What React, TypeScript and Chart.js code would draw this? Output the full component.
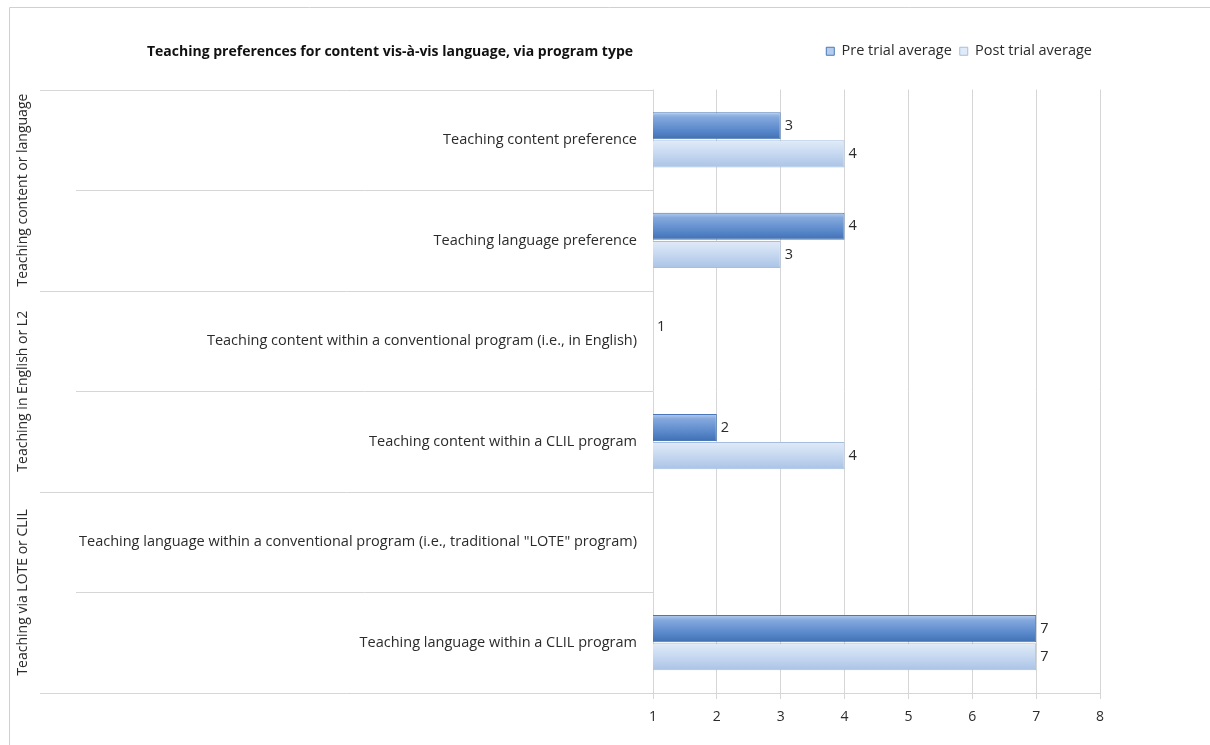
import React, { useEffect, useRef } from "react";
import { Chart, registerables } from "chart.js";

Chart.register(...registerables);

const titleText = "Teaching preferences for content vis-à-vis language, via program type";
const categories = [
  "Teaching content preference",
  "Teaching language preference",
  "Teaching content within a conventional program (i.e., in English)",
  "Teaching content within a CLIL program",
  'Teaching language within a conventional program (i.e., traditional "LOTE" program)',
  "Teaching language within a CLIL program",
];
const groups = [
  "Teaching content or language",
  "Teaching in English or L2",
  "Teaching via LOTE or CLIL",
];
const preTrial: (number | null)[] = [3, 4, 1, 2, null, 7];
const postTrial: (number | null)[] = [4, 3, null, 4, null, 7];
const seriesNames = ["Pre trial average", "Post trial average"];
const xMin = 1;
const xMax = 8;

const FONT = '"Open Sans", sans-serif';
const FS = 14.5;
const TEXT = "#2b2b2b";
const LINE = "#d6d6d6";
const CAT_PCT = 0.56;
const BAR_PCT = 0.96;

const preStops: [number, string][] = [
  [0, "#b4cdee"],
  [0.18, "#85a9de"],
  [0.7, "#5686c9"],
  [1, "#4170b2"],
];
const postStops: [number, string][] = [
  [0, "#e1ebf8"],
  [0.5, "#c6d8f0"],
  [1, "#aac3e6"],
];

function gradientFill(stops: [number, string][], solid: string) {
  return (ctx: any) => {
    const chart = ctx.chart;
    const ca = chart.chartArea;
    if (!ca || ctx.type !== "data") return solid;
    const y = chart.scales.y;
    const cat = (ca.bottom - ca.top) / categories.length;
    const center = y.getPixelForValue(ctx.dataIndex);
    const slot = (cat * CAT_PCT) / 2;
    const bar = slot * BAR_PCT;
    const sc = center + (ctx.datasetIndex === 0 ? -slot / 2 : slot / 2);
    const g = chart.ctx.createLinearGradient(0, sc - bar / 2, 0, sc + bar / 2);
    stops.forEach(([o, c]) => g.addColorStop(o, c));
    return g;
  };
}

const decorPlugin = {
  id: "decor",
  beforeDraw(chart: any) {
    const { ctx } = chart;
    ctx.save();
    ctx.strokeStyle = "#d0d0d0";
    ctx.lineWidth = 1;
    ctx.beginPath();
    ctx.moveTo(9.5, 745);
    ctx.lineTo(9.5, 7.5);
    ctx.lineTo(1210, 7.5);
    ctx.stroke();
    ctx.fillStyle = "#111";
    ctx.font = `bold 14px ${FONT}`;
    ctx.textAlign = "center";
    ctx.textBaseline = "middle";
    ctx.fillText(titleText, 390, 52);
    ctx.restore();
  },
  afterDraw(chart: any) {
    const { ctx, chartArea: ca } = chart;
    const n = categories.length;
    const step = (ca.bottom - ca.top) / n;
    ctx.save();
    ctx.strokeStyle = LINE;
    ctx.lineWidth = 1;
    for (let k = 0; k <= n; k++) {
      const yy = Math.round(ca.top + k * step) + 0.5;
      const x0 = k % 2 === 0 ? 40 : 76;
      ctx.beginPath();
      ctx.moveTo(x0, yy);
      ctx.lineTo(ca.left, yy);
      ctx.stroke();
    }
    ctx.fillStyle = TEXT;
    ctx.font = `14px ${FONT}`;
    ctx.textAlign = "center";
    ctx.textBaseline = "middle";
    groups.forEach((g, i) => {
      const cy = ca.top + (2 * i + 1) * step;
      ctx.save();
      ctx.translate(23, cy);
      ctx.rotate(-Math.PI / 2);
      ctx.fillText(g, 0, 0);
      ctx.restore();
    });
    ctx.restore();
  },
  afterDatasetsDraw(chart: any) {
    const { ctx } = chart;
    ctx.save();
    ctx.fillStyle = TEXT;
    ctx.font = `${FS}px ${FONT}`;
    ctx.textAlign = "left";
    ctx.textBaseline = "middle";
    chart.data.datasets.forEach((ds: any, di: number) => {
      const meta = chart.getDatasetMeta(di);
      meta.data.forEach((el: any, i: number) => {
        const v = ds.data[i];
        if (v === null || v === undefined) return;
        ctx.fillText(String(v), el.x + 4, el.y);
      });
    });
    ctx.restore();
  },
};

export default function App() {
  const ref = useRef<HTMLCanvasElement | null>(null);
  useEffect(() => {
    if (!ref.current) return;
    const chart = new Chart(ref.current, {
      type: "bar",
      data: {
        labels: categories,
        datasets: [
          {
            label: seriesNames[0],
            data: preTrial,
            backgroundColor: gradientFill(preStops, "#4f81bd"),
            borderColor: "#4a78b6",
            borderWidth: 1,
            borderSkipped: "start",
            categoryPercentage: CAT_PCT,
            barPercentage: BAR_PCT,
          },
          {
            label: seriesNames[1],
            data: postTrial,
            backgroundColor: gradientFill(postStops, "#b3c9e8"),
            borderColor: "#a5bedf",
            borderWidth: 1,
            borderSkipped: "start",
            categoryPercentage: CAT_PCT,
            barPercentage: BAR_PCT,
          },
        ],
      },
      options: {
        indexAxis: "y",
        animation: false,
        responsive: true,
        maintainAspectRatio: false,
        layout: { padding: { left: 0, right: 110, top: 36, bottom: 0 } },
        plugins: {
          title: { display: false },
          tooltip: { enabled: false },
          legend: {
            display: true,
            position: "top",
            align: "end",
            labels: {
              boxWidth: 8,
              boxHeight: 8,
              padding: 8,
              color: TEXT,
              font: { family: FONT, size: FS },
            },
          },
        },
        scales: {
          x: {
            type: "linear",
            position: "bottom",
            min: xMin,
            max: xMax,
            ticks: { stepSize: 1, color: TEXT, font: { family: FONT, size: 14 }, padding: 10 },
            grid: { color: LINE, tickLength: 6, drawTicks: true },
            border: { color: LINE },
            afterFit: (s: any) => {
              s.height = 52;
            },
          },
          xTop: {
            type: "linear",
            position: "top",
            display: true,
            grid: { display: false },
            border: { display: false },
            ticks: { display: false },
            afterFit: (s: any) => {
              s.height = 21;
            },
          },
          y: {
            type: "category",
            position: "left",
            grid: { display: false, drawTicks: false },
            border: { display: false },
            ticks: { color: TEXT, font: { family: FONT, size: FS }, padding: 16 },
            afterFit: (s: any) => {
              s.width = 653;
            },
          },
        },
      },
      plugins: [decorPlugin],
    } as any);
    return () => chart.destroy();
  }, []);
  return (
    <div style={{ position: "fixed", left: 0, top: 0, width: 1210, height: 745, background: "#fff" }}>
      <canvas ref={ref} />
    </div>
  );
}
